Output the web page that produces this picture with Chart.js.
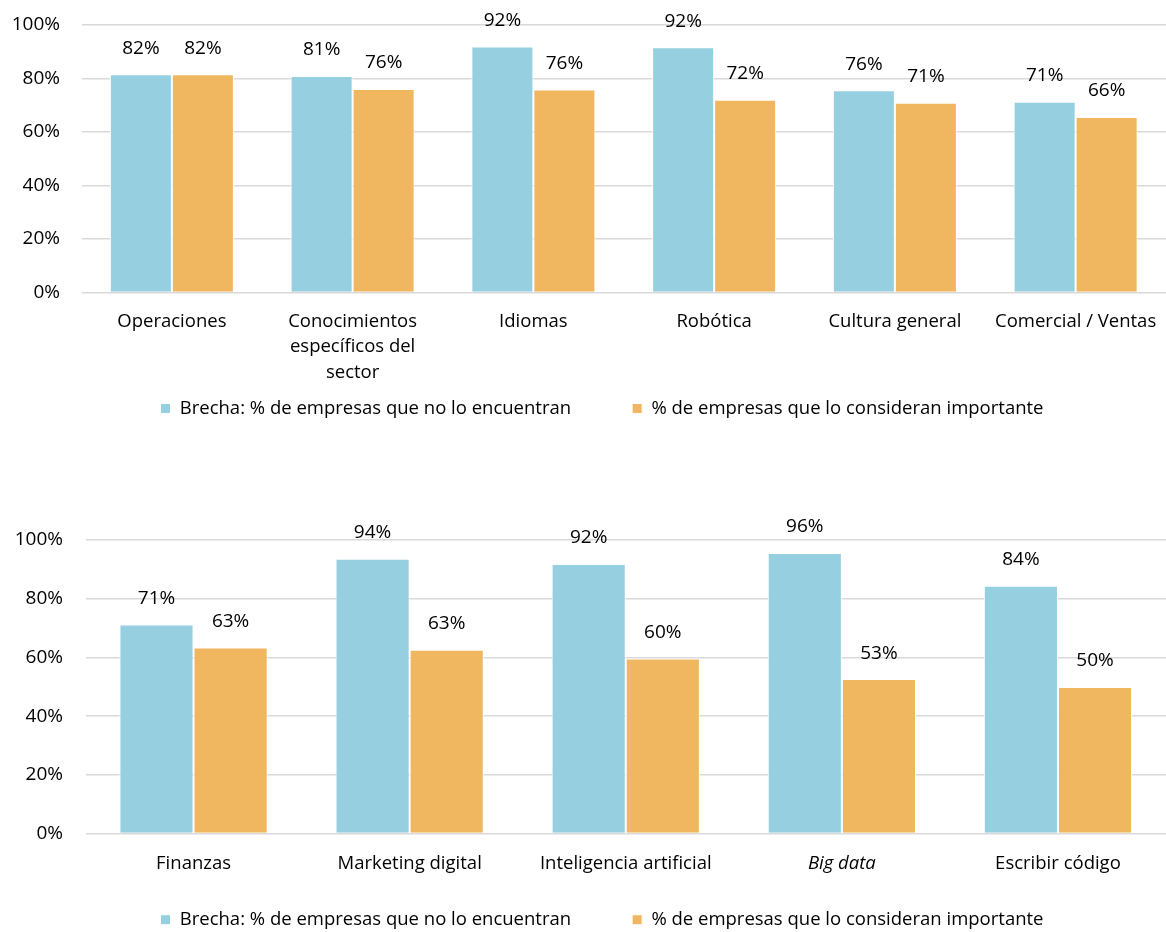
<!DOCTYPE html>
<html>
<head>
<meta charset="utf-8">
<script src="https://cdn.jsdelivr.net/npm/chart.js@4/dist/chart.umd.min.js"></script>
<style>
  html, body { margin: 0; padding: 0; background: #fff; overflow: hidden; }
  #wrap { position: relative; width: 1166px; height: 932px; overflow: hidden; }
  .box { position: absolute; left: 0; width: 1166px; }
  #top { top: 0; height: 481px; }
  #bot { top: 482px; height: 495px; }
</style>
</head>
<body>
<div id="wrap">
  <div class="box" id="top"><canvas id="chartTop"></canvas></div>
  <div class="box" id="bot"><canvas id="chartBot"></canvas></div>
</div>
<script>
// datos
var topLabels = ['Operaciones', ['Conocimientos', 'específicos del', 'sector'], 'Idiomas', 'Robótica', 'Cultura general', 'Comercial / Ventas'];
var topBrecha = [81.6, 80.9, 92, 91.7, 75.6, 71.3];
var topImportante = [81.6, 76.1, 75.9, 72.1, 70.9, 65.6];

var botLabels = ['Finanzas', 'Marketing digital', 'Inteligencia artificial', 'Big data', 'Escribir código'];
var botBrecha = [71.2, 93.6, 91.8, 95.6, 84.4];
var botImportante = [63.4, 62.6, 59.6, 52.6, 49.9];

var yTicks = [0, 20, 40, 60, 80, 100];
var seriesNames = ['Brecha: % de empresas que no lo encuentran', '% de empresas que lo consideran importante'];

var BLUE = '#96cfdf';
var ORANGE = '#f0b660';
var FONT = '"Open Sans", sans-serif';
var FS = 18.5;   // textos
var FN = 19;     // números

// etiquetas encima de cada barra
var valueLabels = {
  id: 'valueLabels',
  afterDatasetsDraw: function (chart) {
    var ctx = chart.ctx;
    ctx.save();
    ctx.font = FN + 'px ' + FONT;
    ctx.fillStyle = '#000';
    ctx.textAlign = 'center';
    ctx.textBaseline = 'middle';
    chart.data.datasets.forEach(function (ds, i) {
      chart.getDatasetMeta(i).data.forEach(function (bar, j) {
        ctx.fillText(Math.round(ds.data[j]) + '%', bar.x, bar.y - 26);
      });
    });
    ctx.restore();
  }
};

// mueve la leyenda (el padding de la leyenda también es el hueco horizontal)
var legendShift = {
  id: 'legendShift',
  afterLayout: function (chart, args, opts) {
    var lg = chart.legend;
    if (!lg) return;
    lg.top -= opts.dy || 0;
    lg.bottom -= opts.dy || 0;
    lg.left += opts.dx || 0;
    lg.right += opts.dx || 0;
  }
};

function makeChart(id, labels, brecha, importante, cfg) {
  return new Chart(document.getElementById(id), {
    type: 'bar',
    data: {
      labels: labels,
      datasets: [
        { label: seriesNames[0], data: brecha, backgroundColor: BLUE, borderColor: '#fff', borderWidth: 1 },
        { label: seriesNames[1], data: importante, backgroundColor: ORANGE, borderColor: '#fff', borderWidth: 1 }
      ]
    },
    options: {
      responsive: true,
      maintainAspectRatio: false,
      animation: false,
      datasets: { bar: { categoryPercentage: 0.686, barPercentage: 1 } },
      layout: { padding: { top: cfg.padTop, left: 0, right: 0, bottom: 0 } },
      plugins: {
        tooltip: { enabled: false },
        legendShift: { dy: cfg.legendDy, dx: 19 },
        legend: {
          position: 'bottom',
          labels: { boxWidth: 10, boxHeight: 10, padding: 61, color: '#000', font: { family: FONT, size: FS } }
        }
      },
      scales: {
        x: {
          grid: { display: false },
          border: { display: false },
          afterFit: function (s) { s.height = cfg.xHeight; s.paddingLeft = 0; s.paddingRight = 0; },
          ticks: {
            padding: cfg.xPad,
            maxRotation: 0,
            autoSkip: false,
            color: '#000',
            font: function (c) {
              var lab = c.tick ? c.tick.label : '';
              return { family: FONT, size: FS, lineHeight: 1.38, style: lab === 'Big data' ? 'italic' : 'normal' };
            }
          }
        },
        y: {
          min: 0,
          max: 100,
          afterFit: function (s) { s.width = cfg.yWidth; s.paddingTop = 0; s.paddingBottom = 0; },
          afterBuildTicks: function (s) { s.ticks = yTicks.map(function (v) { return { value: v }; }); },
          grid: { color: '#d9d9d9', lineWidth: 1.5, drawTicks: false },
          border: { display: false },
          ticks: {
            padding: cfg.yPad,
            color: '#000',
            font: { family: FONT, size: FN },
            callback: function (v) { return v + '%'; }
          }
        }
      }
    },
    plugins: [valueLabels, legendShift]
  });
}

makeChart('chartTop', topLabels, topBrecha, topImportante, { padTop: 25, xHeight: 99, xPad: 8, yWidth: 81.5, yPad: 21.5, legendDy: 53.25 });
makeChart('chartBot', botLabels, botBrecha, botImportante, { padTop: 58, xHeight: 54, xPad: 9, yWidth: 85.5, yPad: 22.5, legendDy: 38 });
</script>
</body>
</html>
